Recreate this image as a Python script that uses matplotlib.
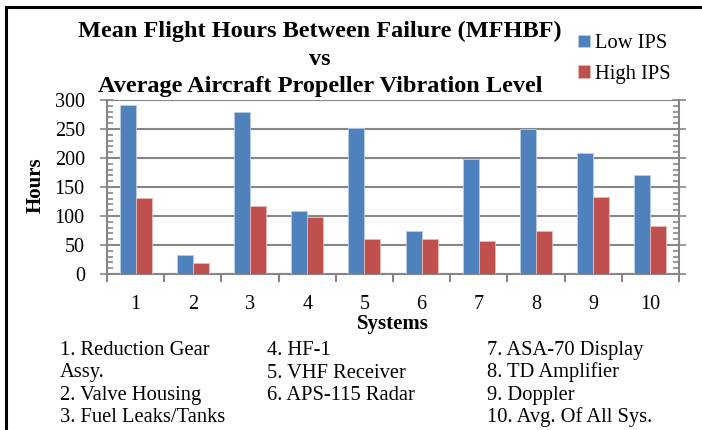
import matplotlib.pyplot as plt
import numpy as np
from matplotlib.ticker import MultipleLocator
from matplotlib.patches import Rectangle

systems = ['1', '2', '3', '4', '5', '6', '7', '8', '9', '10']
low_ips = [292, 32, 280, 109, 251, 75, 198, 250, 208, 170]
high_ips = [131, 19, 117, 99, 60, 61, 57, 74, 132, 83]
title_lines = ['Mean Flight Hours Between Failure (MFHBF)', 'vs',
               'Average Aircraft Propeller Vibration Level']
notes_col1 = ['1. Reduction Gear', 'Assy.', '2. Valve Housing', '3. Fuel Leaks/Tanks']
notes_col2 = ['4. HF-1', '5. VHF Receiver', '6. APS-115 Radar']
notes_col3 = ['7. ASA-70 Display', '8. TD Amplifier', '9. Doppler', '10. Avg. Of All Sys.']

plt.rcParams['font.family'] = ['Liberation Serif', 'DejaVu Serif']

W, H = 702, 430
fig = plt.figure(figsize=(W / 100, H / 100), dpi=100)
ax = fig.add_axes([107 / W, 1 - 274 / H, (679 - 107) / W, (274 - 100) / H])

x = np.arange(len(systems))
w = 0.28
grid_c = '#868686'
ax.bar(x - w / 2, low_ips, w, color='#4F81BD', edgecolor='#B9CDE5', linewidth=0.6, label='Low IPS', zorder=3)
ax.bar(x + w / 2, high_ips, w, color='#C0504D', edgecolor='#E6B9B8', linewidth=0.6, label='High IPS', zorder=3)

ax.set_xlim(-0.5, len(systems) - 0.5)
ax.set_ylim(0, 300)
ax.yaxis.set_major_locator(MultipleLocator(50))
ax.yaxis.set_minor_locator(MultipleLocator(10))
ax.grid(axis='y', color=grid_c, linewidth=1.5, zorder=0)
ax.set_axisbelow(True)

ax.set_xticks(np.arange(-0.5, len(systems), 1.0))
ax.set_xticklabels([])
ax.set_xticks(x, minor=True)
ax.set_xticklabels(systems, minor=True, fontsize=14.5)
ax.tick_params(axis='x', which='major', length=6, width=1.5, color=grid_c, direction='out')
ax.tick_params(axis='x', which='minor', length=0, pad=15)
ax.tick_params(axis='y', which='both', left=True, right=True, color=grid_c, width=1.2,
               labelsize=14.5)
ax.tick_params(axis='y', which='major', length=10, direction='inout', pad=11)
ax.tick_params(axis='y', which='minor', length=4, direction='in')

for s in ['left', 'right', 'bottom']:
    ax.spines[s].set_color(grid_c)
    ax.spines[s].set_linewidth(1.5)
ax.spines['top'].set_visible(False)

ax.set_xlabel('Systems', fontsize=15, fontweight='bold')
ax.xaxis.set_label_coords(0.5, (274 - 314) / 174)
ax.set_ylabel('Hours', fontsize=15, fontweight='bold')
ax.yaxis.set_label_coords((46 - 107) / 572, (274 - 185) / 174)

for t, base in zip(title_lines, [37, 65, 92]):
    fig.text(320 / W, 1 - base / H, t, ha='center', va='baseline', fontsize=17.5, fontweight='bold')

fig.legend(loc='upper left', bbox_to_anchor=(568 / W, 1 - 24 / H), frameon=False,
           fontsize=14.8, handlelength=0.55, handleheight=0.55, handletextpad=0.25,
           labelspacing=0.55, borderpad=0)

rows = [355, 377.5, 400, 422]
for col_x, col in [(60, notes_col1), (267, notes_col2), (487, notes_col3)]:
    for i, t in enumerate(col):
        fig.text(col_x / W, 1 - rows[i] / H, t, ha='left', va='baseline', fontsize=14.8)

fig.patches.append(Rectangle((6 / W, -0.05), 1.1, 1 - 6.5 / H + 0.05, transform=fig.transFigure,
                             fill=False, edgecolor='black', linewidth=2.2, figure=fig))

fig.savefig('out.png', dpi=100)
